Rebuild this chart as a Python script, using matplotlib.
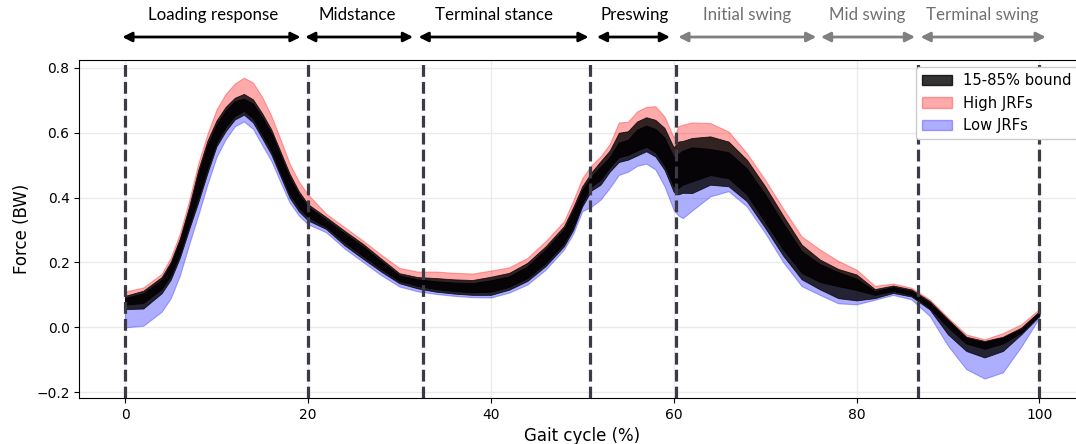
import numpy as np
import matplotlib
matplotlib.use("Agg")
import matplotlib.pyplot as plt
from matplotlib.patches import Patch

# ---- data ----
gait = [0, 2, 4, 5, 6, 7, 8, 9, 10, 11, 12, 13, 14, 15, 16, 17, 18, 19, 20,
        22, 24, 26, 28, 30, 32, 34, 36, 38, 40, 42, 44, 46, 48, 49, 50, 51,
        52, 53, 54, 55, 56, 57, 58, 59, 60, 60.5, 61, 62, 64, 66, 68, 70,
        72, 74, 76, 78, 80, 82, 84, 86, 88, 90, 92, 94, 96, 98, 100]

high_max = [0.110, 0.123, 0.165, 0.215, 0.290, 0.390, 0.505, 0.595, 0.672, 0.720, 0.752,
            0.770, 0.755, 0.710, 0.652, 0.580, 0.505, 0.450, 0.410,
            0.350, 0.309, 0.268, 0.224, 0.183, 0.172, 0.172, 0.168, 0.166, 0.175,
            0.185, 0.214, 0.266, 0.327, 0.390, 0.460, 0.500,
            0.527, 0.565, 0.632, 0.634, 0.666, 0.680, 0.682, 0.650, 0.585, 0.620,
            0.625, 0.632, 0.630, 0.604, 0.537, 0.455,
            0.365, 0.280, 0.240, 0.205, 0.178, 0.128, 0.135, 0.122, 0.086, 0.030,
            -0.022, -0.037, -0.018, 0.009, 0.057]

high_upper = [0.097, 0.113, 0.155, 0.202, 0.275, 0.372, 0.485, 0.575, 0.638, 0.680, 0.708,
              0.720, 0.703, 0.660, 0.610, 0.542, 0.474, 0.420, 0.380,
              0.340, 0.298, 0.258, 0.212, 0.167, 0.155, 0.152, 0.148, 0.146, 0.156,
              0.168, 0.199, 0.250, 0.312, 0.370, 0.435, 0.478,
              0.512, 0.545, 0.600, 0.605, 0.635, 0.648, 0.640, 0.615, 0.555, 0.573,
              0.575, 0.584, 0.589, 0.573, 0.517, 0.435,
              0.343, 0.255, 0.209, 0.180, 0.163, 0.118, 0.129, 0.117, 0.081, 0.025,
              -0.029, -0.042, -0.029, -0.001, 0.050]

low_upper = [0.090, 0.105, 0.147, 0.193, 0.265, 0.360, 0.470, 0.560, 0.625, 0.668, 0.697,
             0.705, 0.690, 0.648, 0.598, 0.530, 0.462, 0.410, 0.372,
             0.332, 0.290, 0.250, 0.204, 0.160, 0.148, 0.142, 0.138, 0.136, 0.145,
             0.157, 0.188, 0.240, 0.302, 0.358, 0.423, 0.465,
             0.495, 0.525, 0.570, 0.578, 0.610, 0.622, 0.612, 0.585, 0.525, 0.535,
             0.545, 0.555, 0.550, 0.540, 0.490, 0.410,
             0.320, 0.235, 0.195, 0.170, 0.150, 0.112, 0.124, 0.112, 0.075, 0.020,
             -0.033, -0.046, -0.032, -0.005, 0.047]

high_lower = [0.070, 0.075, 0.118, 0.160, 0.228, 0.315, 0.400, 0.490, 0.570, 0.618, 0.652,
              0.668, 0.645, 0.595, 0.545, 0.478, 0.412, 0.370, 0.340,
              0.310, 0.262, 0.221, 0.180, 0.143, 0.128, 0.118, 0.112, 0.108, 0.110,
              0.125, 0.152, 0.198, 0.260, 0.310, 0.383, 0.435,
              0.455, 0.493, 0.525, 0.532, 0.545, 0.557, 0.540, 0.500, 0.435, 0.430,
              0.440, 0.450, 0.470, 0.460, 0.410, 0.325,
              0.240, 0.168, 0.140, 0.127, 0.115, 0.100, 0.112, 0.100, 0.060, 0.000,
              -0.050, -0.066, -0.050, -0.016, 0.038]

low_lower = [0.056, 0.058, 0.105, 0.147, 0.215, 0.302, 0.385, 0.475, 0.558, 0.605, 0.641,
             0.656, 0.632, 0.583, 0.533, 0.466, 0.400, 0.358, 0.330,
             0.303, 0.253, 0.212, 0.172, 0.136, 0.120, 0.110, 0.104, 0.100, 0.100,
             0.116, 0.143, 0.189, 0.250, 0.300, 0.373, 0.422,
             0.440, 0.480, 0.510, 0.517, 0.530, 0.543, 0.527, 0.486, 0.418, 0.410,
             0.415, 0.414, 0.440, 0.435, 0.389, 0.307,
             0.220, 0.148, 0.117, 0.090, 0.083, 0.090, 0.106, 0.095, 0.055, -0.022,
             -0.073, -0.093, -0.073, -0.022, 0.035]

low_min = [0.000, 0.005, 0.048, 0.090, 0.160, 0.255, 0.345, 0.440, 0.525, 0.580, 0.620,
           0.635, 0.612, 0.562, 0.513, 0.448, 0.385, 0.345, 0.318,
           0.293, 0.243, 0.202, 0.161, 0.126, 0.111, 0.103, 0.097, 0.093, 0.092,
           0.107, 0.132, 0.178, 0.240, 0.288, 0.358, 0.372,
           0.394, 0.430, 0.470, 0.480, 0.498, 0.505, 0.487, 0.435, 0.362, 0.345,
           0.337, 0.360, 0.404, 0.420, 0.373, 0.291,
           0.200, 0.127, 0.100, 0.074, 0.071, 0.085, 0.100, 0.086, 0.035, -0.057,
           -0.129, -0.158, -0.139, -0.060, 0.030]

phase_names = ["Loading response", "Midstance", "Terminal stance", "Preswing",
               "Initial swing", "Mid swing", "Terminal swing"]
phase_start = [-0.3, 19.7, 32.1, 51.6, 60.5, 76.1, 87.0]
phase_end = [19.2, 31.5, 50.7, 59.6, 75.6, 86.4, 100.7]
phase_label_x = [9.6, 25.4, 40.3, 55.7, 68.0, 81.2, 93.8]
phase_is_swing = [False, False, False, False, True, True, True]
phase_bounds = [0, 20, 32.6, 50.8, 60.3, 86.7, 100]

x_ticks = [0, 20, 40, 60, 80, 100]
y_ticks = [-0.2, 0.0, 0.2, 0.4, 0.6, 0.8]

# ---- figure ----
fig = plt.figure(figsize=(10.76, 4.44), dpi=100)
ax = fig.add_axes([0.0737, 0.1036, 0.9348, 0.7613])

ax.set_xlim(-5, 105)
ax.set_ylim(-0.218, 0.8246)
ax.set_xticks(x_ticks)
ax.set_yticks(y_ticks)
ax.grid(True, color="#ebebeb", lw=1.0)
ax.set_axisbelow(True)
ax.spines["right"].set_visible(False)

red_c = "#ff2020"
blue_c = "#2020ff"
ax.fill_between(gait, high_lower, high_max, color=red_c, alpha=0.38, lw=0.8)
ax.fill_between(gait, low_min, low_upper, color=blue_c, alpha=0.36, lw=0.8)
ax.fill_between(gait, high_lower, high_upper, color="black", alpha=0.8, lw=0.6)
ax.fill_between(gait, low_lower, low_upper, color="black", alpha=0.8, lw=0.6)

for b in phase_bounds:
    ax.axvline(b, color="#3b3b45", lw=2.3, ls="--", zorder=5)

handles = [Patch(facecolor="black", alpha=0.8, edgecolor="black", label="15-85% bound"),
           Patch(facecolor=red_c, alpha=0.38, edgecolor=red_c, label="High JRFs"),
           Patch(facecolor=blue_c, alpha=0.36, edgecolor=blue_c, label="Low JRFs")]
leg = ax.legend(handles=handles, loc="upper right", fontsize=10.6, framealpha=1.0)
leg.set_zorder(10)

ax.set_xlabel("Gait cycle (%)", fontsize=12)
ax.set_ylabel("Force (BW)", fontsize=12)
ax.tick_params(labelsize=10)

trans = ax.get_xaxis_transform()
for name, s, e, lx, sw in zip(phase_names, phase_start, phase_end, phase_label_x, phase_is_swing):
    col = "#808080" if sw else "black"
    ax.annotate("", xy=(e, 1.068), xytext=(s, 1.068), xycoords=trans, textcoords=trans,
                arrowprops=dict(arrowstyle="<|-|>", color=col, lw=2.0, mutation_scale=14,
                                shrinkA=0, shrinkB=0), annotation_clip=False)
    ax.text(lx, 1.133, name, transform=trans, ha="center", va="center",
            fontsize=12.2, family=["Lato", "DejaVu Sans"], color=("#707070" if sw else "black"))

fig.savefig("out.png", dpi=100)
